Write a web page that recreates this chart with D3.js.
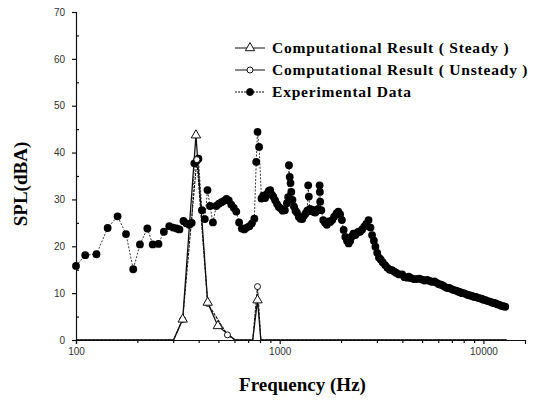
<!DOCTYPE html>
<html>
<head>
<meta charset="utf-8">
<script src="https://cdn.jsdelivr.net/npm/d3@7"></script>
<style>
  body { margin: 0; background: #fff; }
</style>
</head>
<body>
<div id="chart"></div>
<script>
// --------------- Data ---------------
const X_TICKS = [100, 1000, 10000];
const Y_TICKS = [0, 10, 20, 30, 40, 50, 60, 70];
const LEGEND_LABELS = [
  "Computational Result  ( Steady )",
  "Computational Result  ( Unsteady )",
  "Experimental Data",
];

const steadyFreq = [100, 301, 334, 388, 443, 497, 604, 737, 778, 808, 13000];
const steadySpl = [0, 0, 4.4, 43.7, 8.0, 3.0, 0, 0, 8.5, 0, 0];

const unsteadyFreq = [100, 301, 334, 392, 443, 554, 604, 737, 778, 808, 13000];
const unsteadySpl = [0, 0, 4.4, 38.5, 7.8, 1.1, 0, 0, 11.4, 0, 0];

const expFreq = [
  100, 111, 126, 143, 160, 176, 191, 206, 224, 238, 254, 270, 287, 300, 312,
  322, 337, 348, 360, 370, 381, 392, 399, 415, 429, 442, 455, 470, 488, 503,
  518, 533, 548, 562, 578, 595, 612, 632, 652, 670, 689, 710, 731, 751, 767,
  778, 792, 814, 830, 848, 866, 884, 898, 915, 930, 950, 970, 990, 1010, 1035,
  1060, 1085, 1100, 1110, 1120, 1130, 1140, 1155, 1175, 1195, 1215, 1240, 1265,
  1290, 1315, 1340, 1365, 1380, 1390, 1405, 1425, 1445, 1470, 1495, 1520, 1545,
  1570, 1575, 1580, 1600, 1635, 1670, 1705, 1740, 1770, 1810, 1850, 1900, 1940,
  1980, 2020, 2060, 2100, 2140, 2180, 2220, 2260, 2300, 2350, 2400, 2440, 2480,
  2540, 2600, 2660, 2730, 2790, 2840, 2900, 2950, 3010, 3070, 3130, 3200, 3290,
  3380, 3470, 3560, 3650, 3740, 3850, 3990, 4100, 4220, 4300, 4420, 4550, 4700,
  4850, 5000, 5150, 5300, 5450, 5600, 5750, 5900, 6050, 6200, 6350, 6500, 6650,
  6800, 6950, 7100, 7250, 7400, 7550, 7700, 7850, 8000, 8200, 8400, 8600, 8800,
  9000, 9200, 9400, 9600, 9800, 10000, 10250, 10500, 10750, 11000, 11250, 11500,
  11750, 12000, 12250, 12500, 12800,
];
const expSpl = [
  15.8, 18.1, 18.3, 23.9, 26.4, 22.6, 15.1, 20.4, 23.8, 20.4, 20.5, 23.1, 24.3, 24.0, 23.8,
  23.6, 25.4, 24.9, 24.6, 25.0, 37.7, 38.3, 38.7, 27.7, 25.8, 32.0, 28.6, 25.1, 28.6, 29.1,
  29.4, 29.7, 30.1, 29.8, 28.9, 28.2, 27.4, 25.1, 23.8, 23.6, 24.0, 24.3, 24.9, 25.9, 38.0,
  44.4, 41.2, 30.2, 30.8, 30.3, 31.2, 31.8, 32.0, 31.0, 30.6, 29.8, 29.0, 28.4, 28.1, 27.6,
  27.7, 29.2, 30.5, 37.3, 34.8, 33.5, 31.6, 29.9, 28.5, 27.6, 27.2, 26.3, 25.9,
  25.8, 26.5, 27.0, 27.6, 33.0, 30.6, 28.0, 27.5, 27.8, 27.3, 27.2, 27.6, 28.0,
  33.0, 31.6, 29.5, 27.7, 25.6, 25.0, 24.6, 25.3, 25.2, 25.6, 26.3, 27.0, 27.4,
  26.8, 25.6, 23.5, 22.0, 21.2, 20.6, 21.2, 22.1, 22.7, 22.4, 22.9, 23.1, 23.1,
  23.6, 24.2, 24.8, 25.6, 24.0, 22.4, 21.2, 19.9, 18.6, 17.6, 17.2, 16.6, 16.0,
  15.4, 15.0, 14.9, 14.6, 14.3, 14.0, 14.0, 13.4, 13.3, 13.5, 13.2, 13.0, 13.0,
  13.1, 12.9, 12.7, 12.8, 12.6, 12.4, 12.5, 12.2, 11.9, 11.8, 11.6, 11.3, 11.1,
  11.1, 10.9, 10.7, 10.6, 10.5, 10.3, 10.2, 10.0, 10.0, 9.8, 9.6, 9.5, 9.4,
  9.2, 9.2, 9.0, 8.9, 8.8, 8.6, 8.5, 8.3, 8.2, 8.0, 7.9, 7.8,
  7.6, 7.5, 7.3, 7.2, 7.1,
];

// --------------- Constants ---------------
const WIDTH = 542;
const HEIGHT = 401;
const MARGINS = { top: 12, right: 17, bottom: 61, left: 76 };
const SERIF = "'Liberation Serif', 'Times New Roman', serif";
const SANS = "'Liberation Sans', Arial, sans-serif";

const zip = (fs, vs) => fs.map((f, i) => [f, vs[i]]);
const steady = zip(steadyFreq, steadySpl);
const unsteady = zip(unsteadyFreq, unsteadySpl);
const experimental = zip(expFreq, expSpl);

const X_SCALE = d3
  .scaleLog()
  .domain([100, 16000])
  .range([MARGINS.left, WIDTH - MARGINS.right]);
const Y_SCALE = d3
  .scaleLinear()
  .domain([0, 70])
  .range([HEIGHT - MARGINS.bottom, MARGINS.top]);

const svg = d3
  .select("#chart")
  .append("svg")
  .attr("width", WIDTH)
  .attr("height", HEIGHT)
  .style("background", "#fff");

// --------------- Axes ---------------
const yAxis = svg
  .append("g")
  .attr("transform", `translate(${MARGINS.left},0)`)
  .call(d3.axisLeft(Y_SCALE).tickValues(Y_TICKS).tickSize(4).tickPadding(7));
yAxis.selectAll("text").attr("font-family", SANS).attr("font-size", 10).attr("fill", "#333");

svg
  .append("g")
  .attr("transform", `translate(${MARGINS.left},0)`)
  .call(
    d3.axisRight(Y_SCALE).tickValues(Y_TICKS.slice(1).map((d) => d - 5)).tickSize(3).tickFormat("")
  )
  .select(".domain")
  .remove();

const xAxis = svg
  .append("g")
  .attr("transform", `translate(0,${HEIGHT - MARGINS.bottom})`)
  .call(
    d3.axisBottom(X_SCALE).tickValues(X_TICKS).tickFormat(d3.format("d")).tickSize(4).tickPadding(4)
  );
xAxis.selectAll("text").attr("font-family", SANS).attr("font-size", 10).attr("fill", "#333");

const minorX = [];
[100, 1000].forEach((base) => {
  for (let k = 2; k <= 9; k++) minorX.push(base * k);
});
svg
  .append("g")
  .attr("transform", `translate(0,${HEIGHT - MARGINS.bottom})`)
  .call(d3.axisBottom(X_SCALE).tickValues(minorX).tickSize(3).tickFormat(""))
  .select(".domain")
  .remove();

svg.selectAll(".domain, .tick line").attr("stroke", "#111").attr("stroke-width", 1.2);

// Axis titles
svg
  .append("text")
  .attr("x", (MARGINS.left + WIDTH - MARGINS.right) / 2 + 2)
  .attr("y", 391)
  .attr("text-anchor", "middle")
  .attr("font-family", SERIF)
  .attr("font-weight", "bold")
  .attr("font-size", 19)
  .text("Frequency (Hz)");

svg
  .append("text")
  .attr("transform", `translate(27,184) rotate(-90)`)
  .attr("text-anchor", "middle")
  .attr("font-family", SERIF)
  .attr("font-weight", "bold")
  .attr("font-size", 19)
  .text("SPL(dBA)");

// --------------- Series ---------------
const line = d3
  .line()
  .x(([f, _v]) => X_SCALE(f))
  .y(([_f, v]) => Y_SCALE(v));

const plot = svg.append("g");

plot
  .append("path")
  .datum(experimental)
  .attr("d", line)
  .attr("fill", "none")
  .attr("stroke", "#222")
  .attr("stroke-width", 0.9)
  .attr("stroke-dasharray", "2,1.5");

plot
  .append("path")
  .datum(steady)
  .attr("d", line)
  .attr("fill", "none")
  .attr("stroke", "#111")
  .attr("stroke-width", 1.3);

plot
  .append("path")
  .datum(unsteady)
  .attr("d", line)
  .attr("fill", "none")
  .attr("stroke", "#111")
  .attr("stroke-width", 1.1)
  .attr("stroke-dasharray", "3,1");

const triangle = d3.symbol(d3.symbolTriangle).size(38);

plot
  .selectAll(".exp-dot")
  .data(experimental)
  .enter()
  .append("circle")
  .attr("class", "exp-dot")
  .attr("cx", ([f, _v]) => X_SCALE(f))
  .attr("cy", ([_f, v]) => Y_SCALE(v))
  .attr("r", 3.9)
  .attr("fill", "#000");

plot
  .selectAll(".unsteady-dot")
  .data(unsteady.filter(([_f, v]) => v > 0))
  .enter()
  .append("circle")
  .attr("class", "unsteady-dot")
  .attr("cx", ([f, _v]) => X_SCALE(f))
  .attr("cy", ([_f, v]) => Y_SCALE(v))
  .attr("r", 3)
  .attr("fill", "#fff")
  .attr("stroke", "#111")
  .attr("stroke-width", 1);

plot
  .selectAll(".steady-dot")
  .data(steady.filter(([_f, v]) => v > 0))
  .enter()
  .append("path")
  .attr("class", "steady-dot")
  .attr("transform", ([f, v]) => `translate(${X_SCALE(f)},${Y_SCALE(v)})`)
  .attr("d", triangle)
  .attr("fill", "#fff")
  .attr("stroke", "#111")
  .attr("stroke-width", 1);

// --------------- Legend ---------------
const LEGEND_X = 235;
const LEGEND_Y = [48, 70, 92];

const legend = svg.append("g");
LEGEND_LABELS.forEach((label, i) => {
  const y = LEGEND_Y[i];
  const g = legend.append("g");
  g.append("line")
    .attr("x1", LEGEND_X)
    .attr("x2", LEGEND_X + 30)
    .attr("y1", y)
    .attr("y2", y)
    .attr("stroke", "#111")
    .attr("stroke-width", 1)
    .attr("stroke-dasharray", i === 2 ? "2,1" : null);
  if (i === 0) {
    g.append("path")
      .attr("transform", `translate(${LEGEND_X + 15},${y})`)
      .attr("d", triangle)
      .attr("fill", "#fff")
      .attr("stroke", "#111");
  } else {
    g.append("circle")
      .attr("cx", LEGEND_X + 15)
      .attr("cy", y)
      .attr("r", i === 1 ? 3 : 3.5)
      .attr("fill", i === 1 ? "#fff" : "#000")
      .attr("stroke", "#111");
  }
  g.append("text")
    .attr("x", LEGEND_X + 37)
    .attr("y", y + 5)
    .attr("font-family", SERIF)
    .attr("font-weight", "bold")
    .attr("font-size", 15.5)
    .attr("letter-spacing", 0.8)
    .text(label);
});
</script>
</body>
</html>
